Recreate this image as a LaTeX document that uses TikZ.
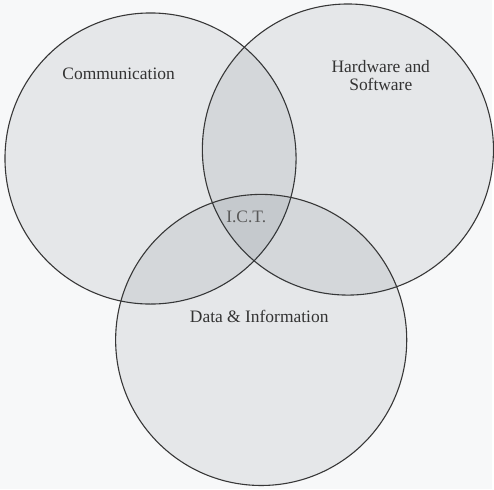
\documentclass[tikz,border=0pt]{standalone}
\usepackage{fontspec}
\setmainfont{Liberation Serif}
\usetikzlibrary{positioning}
\definecolor{hatter}{RGB}{247,248,249}
\definecolor{arnyek}{RGB}{40,55,70}
\definecolor{vonal}{RGB}{55,55,55}

\begin{document}
\begin{tikzpicture}[x=1pt,y=-1pt,
halmaz/.style={circle,draw=vonal,line width=1.1pt,fill=arnyek,fill opacity=.085,
  text opacity=1,minimum size=2*\sugar pt,inner sep=0pt},
felirat/.style={font=\fontsize{17.5}{21}\selectfont,text=black!80,align=center}]

\pgfmathsetmacro{\sugar}{146}

% paper
\fill[hatter] (0,0) rectangle (494,491);

% the three sets
\node[halmaz](comm) at (151,159){};
\node[halmaz](hw) at (349,150){};
\node[halmaz](data) at (262,341){};

\node[felirat](comm-text) at (119,74){Communication};
\node[felirat](hw-text) at (382,76){Hardware and\\[-3pt]Software};
\node[felirat](data-text) at (260,317){Data \& Information};
\node[felirat,text=black!65](ict) at (247,218){I.C.T.};

\end{tikzpicture}
\end{document}
